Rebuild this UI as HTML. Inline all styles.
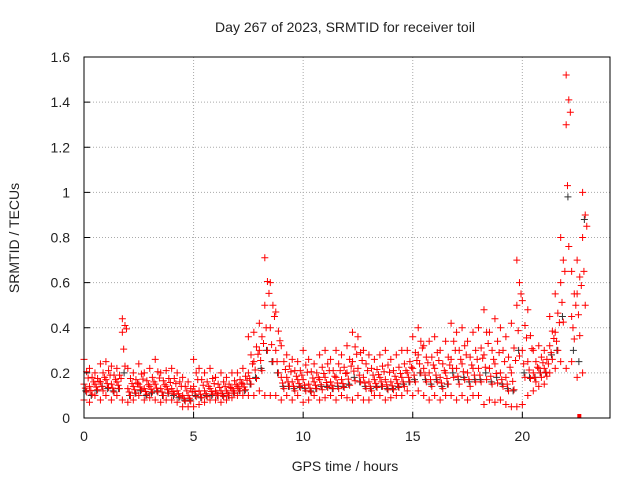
<!DOCTYPE html>
<html><head><meta charset="utf-8"><style>
body{margin:0;background:#fff}
svg text{font-family:"Liberation Sans",sans-serif;font-size:14px;fill:#222}
</style></head><body>
<svg id="chart" width="640" height="480" xmlns="http://www.w3.org/2000/svg">
<rect width="640" height="480" fill="#fff"/>
<g id="grid"></g><g id="marks"></g><g id="axes"></g>
</svg>
<script>
const xTicks=[0,5,10,15,20];
const yTicks=[0,0.2,0.4,0.6,0.8,1,1.2,1.4,1.6];
const yTickLabels=["0","0.2","0.4","0.6","0.8","1","1.2","1.4","1.6"];
const timeStep=0.25;
const hiVals=[.26,.22,.2,.24,.25,.23,.22,.44,
.22,.2,.24,.2,.22,.26,.2,.21,.22,.2,.18,.16,
.26,.22,.2,.22,.18,.2,.18,.2,.2,.22,.36,.38,
.42,.71,.6,.47,.32,.28,.26,.25,
.3,.26,.24,.28,.3,.26,.3,.28,.32,.38,.36,.3,
.28,.26,.28,.3,.26,.28,.3,.3,.36,.4,.32,.34,
.36,.3,.34,.42,.38,.4,.34,.38,.4,.48,.38,.44,.4,.36,.42,.7,
.52,.48,.3,.32,.3,.45,.55,.8,1.52,.65,.7,1.0];
const midVals=[.15,.14,.15,.16,.17,.15,.16,.38,
.13,.14,.15,.13,.14,.15,.13,.14,.13,.12,.1,.1,
.14,.12,.12,.13,.12,.12,.12,.13,.14,.15,.2,.25,
.3,.5,.4,.3,.18,.18,.16,.17,
.17,.15,.16,.17,.18,.16,.18,.17,.2,.25,.22,.18,
.16,.17,.18,.17,.16,.17,.18,.2,.22,.28,.22,.2,
.22,.18,.2,.26,.22,.24,.2,.22,.22,.28,.22,.24,.2,.18,.2,.5,
.3,.25,.2,.22,.22,.32,.38,.6,1.3,.45,.55,.8];
const loVals=[.08,.07,.1,.08,.1,.08,.1,.08,
.07,.08,.1,.08,.09,.08,.07,.08,.08,.07,.05,.05,
.05,.06,.07,.08,.08,.07,.08,.09,.1,.1,.1,.1,
.12,.1,.1,.1,.08,.1,.08,.1,
.07,.08,.1,.08,.09,.1,.08,.1,.09,.08,.1,.08,
.08,.1,.1,.08,.09,.1,.1,.12,.1,.12,.1,.08,
.1,.08,.1,.1,.08,.1,.08,.1,.1,.06,.08,.07,.08,.06,.05,.05,
.06,.1,.12,.14,.15,.2,.22,.25,.22,.25,.18,.2];
const darkVals=[.12,.1,.12,.14,.13,.12,.13,.2,
.1,.11,.12,.1,.11,.12,.1,.11,.1,.09,.08,.08,
.1,.09,.1,.1,.1,.1,.1,.11,.12,.12,.15,.18,
.22,.3,.25,.2,.14,.14,.13,.14,
.13,.12,.13,.14,.14,.13,.14,.14,.15,.18,.16,.14,
.13,.14,.14,.13,.13,.14,.15,.16,.17,.2,.17,.15,
.17,.14,.15,.2,.17,.18,.16,.17,.17,.2,.16,.18,.15,.13,.12,.3,
.2,.18,.18,.2,.2,.28,.3,.45,.98,.3,.25,.88];
const L=84,R=610,T=57,B=418,XMAX=24,YMAX=1.6;
const X=v=>L+v/XMAX*(R-L), Y=v=>B-v/YMAX*(B-T);
const NS="http://www.w3.org/2000/svg";
function mk(tag,attrs,parent){const e=document.createElementNS(NS,tag);for(const k in attrs)e.setAttribute(k,attrs[k]);parent.appendChild(e);return e;}
const grid=document.getElementById('grid'),marks=document.getElementById('marks'),axes=document.getElementById('axes');
xTicks.forEach(t=>{
 const g=mk('line',{x1:X(t),x2:X(t),y1:T,y2:B,stroke:'#aaa','stroke-dasharray':'1,2'},grid);
 
 
 const tk=mk('line',{x1:X(t),x2:X(t),y1:B,y2:B-6,stroke:'#000'},axes);
 
 
 const lb=mk('text',{x:X(t),y:B+23,'text-anchor':'middle'},axes);lb.textContent=t;
 
 
});
yTicks.forEach((t,i)=>{
 const g=mk('line',{x1:L,x2:R,y1:Y(t),y2:Y(t),stroke:'#aaa','stroke-dasharray':'1,2'},grid);
 
 
 const tk=mk('line',{x1:L,x2:L+6,y1:Y(t),y2:Y(t),stroke:'#000'},axes);
 
 
 const lb=mk('text',{x:L-14,y:Y(t)+5,'text-anchor':'end'},axes);lb.textContent=yTickLabels[i];
 
 
});
function cross(t,v,col){
 const x=X(t),y=Y(v);
 const p=mk('path',{d:`M${x-3.5} ${y}H${x+3.5}M${x} ${y-3.5}V${y+3.5}`,stroke:col,'stroke-width':1,fill:'none'},marks);
 
 
}
darkVals.forEach((v,i)=>cross(i*timeStep+0.08,v,'#333'));
[hiVals,midVals,loVals].forEach(arr=>arr.forEach((v,i)=>cross(i*timeStep,v,'#ff0000')));
hiVals.forEach((v,i)=>cross(i*timeStep+0.12,(v+midVals[i])/2,'#ff0000'));
loVals.forEach((v,i)=>cross(i*timeStep+0.12,(v+midVals[i])/2,'#ff0000'));
hiVals.forEach((v,i)=>cross(i*timeStep+0.19,(v+3*midVals[i])/4,'#ff0000'));
loVals.forEach((v,i)=>cross(i*timeStep+0.06,(v+3*midVals[i])/4,'#ff0000'));
const sq=mk('rect',{x:X(22.6)-2,y:B-4,width:4,height:4,fill:'#ff0000'},marks);


const frame=mk('rect',{x:L,y:T,width:R-L,height:B-T,fill:'none',stroke:'#000'},axes);


const title=mk('text',{x:345,y:32,'text-anchor':'middle'},axes);title.textContent='Day 267 of 2023, SRMTID for receiver toil';


const xl=mk('text',{x:345,y:471,'text-anchor':'middle'},axes);xl.textContent='GPS time / hours';


const yl=mk('text',{x:19,y:238,'text-anchor':'middle',transform:'rotate(-90 19 238)'},axes);yl.textContent='SRMTID / TECUs';


</script>
</body></html>
